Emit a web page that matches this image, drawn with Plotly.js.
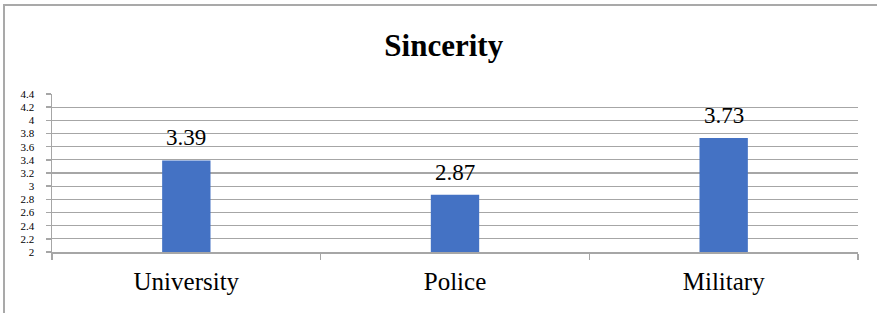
<!DOCTYPE html>
<html>
<head>
<meta charset="utf-8">
<script src="https://cdn.plot.ly/plotly-3.0.1.min.js"></script>
<style>
  html, body { margin: 0; padding: 0; background: #fff; }
  #wrap { position: relative; width: 877px; height: 313px; }
  #chart { width: 877px; height: 313px; }
  #frame { position: absolute; left: 3px; top: 4px; width: 874px; height: 309px;
           border-top: 2px solid #a9a9a9; border-left: 2px solid #a9a9a9;
           box-sizing: border-box; pointer-events: none; }
</style>
</head>
<body>
<div id="wrap">
  <div id="chart"></div>
  <div id="frame"></div>
</div>
<script>
const categories = ["University", "Police", "Military"];
const values = [3.39, 2.87, 3.73];
const labels = ["3.39", "2.87", "3.73"];
const yTicks = [2, 2.2, 2.4, 2.6, 2.8, 3, 3.2, 3.4, 3.6, 3.8, 4, 4.2, 4.4];
const yTickText = ["2", "2.2", "2.4", "2.6", "2.8", "3", "3.2", "3.4", "3.6", "3.8", "4", "4.2", "4.4"];
const chartTitle = "Sincerity";

const serif = "Liberation Serif, DejaVu Serif, serif";

const trace = {
  type: "bar",
  x: categories,
  y: values,
  width: 0.18,
  marker: { color: "#4472C4" },
  hoverinfo: "skip"
};

const annotations = categories.map((c, i) => ({
  x: c, y: values[i], xref: "x", yref: "y",
  text: labels[i], showarrow: false,
  yanchor: "bottom", yshift: 8,
  font: { family: serif, size: 23, color: "#000" }
}));

const layout = {
  width: 877, height: 313,
  margin: { l: 52, r: 19, t: 94, b: 61 },
  paper_bgcolor: "#fff", plot_bgcolor: "#fff",
  showlegend: false,
  title: {
    text: "<b>" + chartTitle + "</b>",
    x: 0.506, xref: "container", xanchor: "center",
    y: 0.855, yref: "container", yanchor: "middle",
    font: { family: serif, size: 31, color: "#000" }
  },
  xaxis: {
    type: "category",
    showline: true, linecolor: "#a6a6a6", linewidth: 1.5,
    ticks: "outside", tickson: "boundaries", ticklen: 6, tickcolor: "#a6a6a6", tickwidth: 1.5,
    showgrid: false,
    tickfont: { family: serif, size: 25, color: "#000" },
    ticklabelstandoff: 6
  },
  yaxis: {
    range: [2, 4.4],
    tickvals: yTicks, ticktext: yTickText,
    showline: true, linecolor: "#a6a6a6", linewidth: 1.5,
    ticks: "outside", ticklen: 5, tickcolor: "#a6a6a6", tickwidth: 1.5,
    showgrid: true, gridcolor: "#a6a6a6", gridwidth: 1.3,
    zeroline: false,
    tickfont: { family: serif, size: 11, color: "#000" },
    ticklabelstandoff: 9
  },
  annotations: annotations
};

Plotly.newPlot("chart", [trace], layout, { displayModeBar: false, staticPlot: true });
</script>
</body>
</html>
